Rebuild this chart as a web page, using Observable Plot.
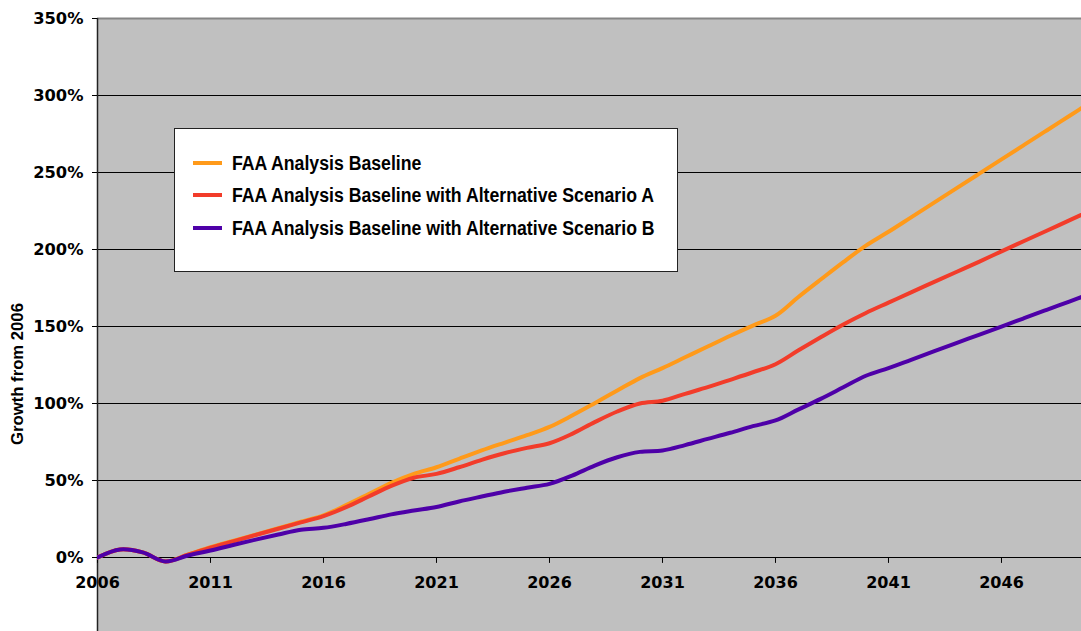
<!DOCTYPE html>
<html>
<head>
<meta charset="utf-8">
<script src="https://cdn.jsdelivr.net/npm/d3@7"></script>
<script src="https://cdn.jsdelivr.net/npm/@observablehq/plot@0.6"></script>
<style>
  html, body { margin: 0; padding: 0; background: #fff; }
  #wrap { position: relative; width: 1081px; height: 631px; overflow: hidden; }
  #wrap svg { position: absolute; left: 0; top: 0; }
  #legend {
    position: absolute; left: 174px; top: 128px; width: 504px; height: 144px;
    background: #fff; border: 1.5px solid #222; box-sizing: border-box;
    font-family: "Liberation Sans", Arial, sans-serif; font-weight: bold; font-size: 19.5px; color: #000;
  }
  .item { position: absolute; left: 18px; height: 22px; display: flex; align-items: center; white-space: nowrap; }
  .swatch { width: 29px; height: 4px; margin-right: 10px; flex: none; }
  .label { display: inline-block; transform: scaleX(0.907); transform-origin: left center; }
  #ytitle {
    position: absolute; left: 17.5px; top: 374px; width: 0; height: 0;
  }
  #ytitle span {
    position: absolute; left: 0; top: 0; white-space: nowrap;
    transform: translate(-50%, -50%) rotate(-90deg);
    font-family: "Liberation Sans", Arial, sans-serif; font-weight: bold; font-size: 16.7px; color: #000;
  }
</style>
</head>
<body>
<div id="wrap"></div>
<script>
const years = d3.range(2006, 2051);
const baseline = [0, 5.2, 3.3, -2.6, 1.9, 6.7, 10.8, 14.9, 19.0, 23.2, 27.3, 34.0, 41.2, 48.5, 54.3, 58.6, 64.1, 69.5, 74.5, 79.4, 84.8, 92.2, 100.2, 108.4, 116.5, 123.0, 130.0, 137.0, 144.0, 150.6, 157.0, 169.0, 180.5, 191.8, 202.5, 211.5, 220.9, 230.3, 239.7, 249.1, 258.5, 267.9, 277.3, 286.7, 296.1];
const scenarioA = [0, 5.2, 3.3, -2.6, 1.8, 6.4, 10.5, 14.6, 18.7, 22.8, 26.9, 32.7, 39.6, 46.5, 51.8, 54.3, 58.6, 63.4, 67.7, 71.2, 74.2, 80.3, 87.9, 94.8, 100.0, 101.8, 106.3, 110.6, 115.4, 120.3, 125.5, 134.4, 143.0, 151.3, 158.8, 165.5, 172.2, 178.8, 185.4, 192.0, 198.8, 205.5, 212.2, 218.9, 225.6];
const scenarioB = [0, 5.2, 3.3, -2.6, 1.3, 4.5, 8.1, 11.6, 14.9, 18.0, 19.3, 21.8, 24.8, 28.0, 30.5, 32.8, 36.4, 39.6, 42.7, 45.3, 47.8, 53.2, 59.7, 65.1, 68.6, 69.5, 73.0, 77.0, 81.0, 85.3, 89.0, 96.0, 103.0, 110.5, 118.0, 123.0, 128.4, 133.8, 139.2, 144.6, 150.0, 155.4, 160.8, 166.2, 171.6];

const seriesNames = [
  "FAA Analysis Baseline",
  "FAA Analysis Baseline with Alternative Scenario A",
  "FAA Analysis Baseline with Alternative Scenario B"
];
const seriesColors = ["#FF9A1A", "#F23C2A", "#4E00A8"];
const seriesValues = [baseline, scenarioA, scenarioB];

const xTicks = [2006, 2011, 2016, 2021, 2026, 2031, 2036, 2041, 2046];
const yTicks = [0, 50, 100, 150, 200, 250, 300, 350];
const yGrid = [0, 50, 100, 150, 200, 250, 300];
const yTitle = "Growth from 2006";

const rows = [];
seriesNames.forEach((name, i) => {
  years.forEach((yr, j) => rows.push({series: name, year: yr, value: seriesValues[i][j]}));
});

const tickShape = { draw(context, l) { context.moveTo(0, 0); context.lineTo(0, -l); } };
const labelFont = "DejaVu Sans, Verdana, sans-serif";

const chart = Plot.plot({
  width: 1081,
  height: 631,
  marginLeft: 97,
  marginRight: 0,
  marginTop: 18,
  marginBottom: 0,
  style: { background: "transparent", overflow: "visible" },
  x: { domain: [2006, 2049.54], axis: null },
  y: { domain: [-48.05, 350], axis: null },
  color: { domain: seriesNames, range: seriesColors },
  marks: [
    Plot.frame({ fill: "#C0C0C0", stroke: "none" }),
    Plot.ruleY(yGrid, { stroke: "#000", strokeWidth: 1.2 }),
    Plot.ruleY([350], { stroke: "#858585", strokeWidth: 2 }),
    Plot.ruleX([2006], { stroke: "#222", strokeWidth: 1.5 }),
    Plot.axisY({
      ticks: yTicks, tickFormat: d => d + "%", tickSize: 5, tickPadding: 9,
      fontSize: 16.3, fontWeight: "bold", fontFamily: labelFont, label: null, stroke: "#000"
    }),
    Plot.vector(xTicks, { x: d => d, y: 0, length: 5, rotate: 180, anchor: "start", shape: tickShape, stroke: "#000", strokeWidth: 1 }),
    Plot.text(xTicks, { x: d => d, y: 0, text: d => String(d), dy: 25, fontSize: 16, fontWeight: "bold", fontFamily: labelFont, fill: "#000" }),
    Plot.line(rows, { x: "year", y: "value", z: "series", stroke: "series", strokeWidth: 4, curve: "catmull-rom", clip: true })
  ]
});

const wrap = document.getElementById("wrap");
wrap.appendChild(chart);

const yt = document.createElement("div");
yt.id = "ytitle";
const ytSpan = document.createElement("span");
ytSpan.textContent = yTitle;
yt.appendChild(ytSpan);
wrap.appendChild(yt);

const legend = document.createElement("div");
legend.id = "legend";
const rowTops = [23, 55, 88];
seriesNames.forEach((name, i) => {
  const it = document.createElement("div");
  it.className = "item";
  it.style.top = rowTops[i] + "px";
  const sw = document.createElement("div");
  sw.className = "swatch";
  sw.style.background = seriesColors[i];
  const tx = document.createElement("span");
  tx.className = "label";
  tx.textContent = name;
  it.appendChild(sw);
  it.appendChild(tx);
  legend.appendChild(it);
});
wrap.appendChild(legend);
</script>
</body>
</html>
